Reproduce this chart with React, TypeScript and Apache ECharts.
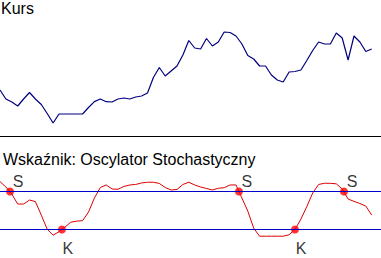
import React, { useEffect, useRef } from "react";
import * as echarts from "echarts";

// Kurs (price), one value per session
const price = [
  60, 51, 48, 44, 51, 57.5, 51, 45.5, 36.5, 27, 36, 36, 36, 36, 36, 42.5,
  48.4, 51, 48.3, 48, 51, 52, 51, 53, 54, 57, 72.5, 82.5, 74, 79, 84, 95,
  109.5, 102, 101, 111.5, 104, 108, 118, 117.5, 114, 106, 94.5, 91, 84, 84, 75, 70,
  68, 78, 78.5, 80, 89.5, 99.5, 108, 106, 106, 117, 112, 90, 114, 108, 98.5, 101,
];

// Oscylator stochastyczny (0-100)
const oscillator = [
  95.6, 87.1, 76, 60.2, 60.2, 66.5, 64.1, 42.7, 20.5, 11, 16.5, 23.7, 31.6, 33.2, 34, 47.5,
  69.7, 86.3, 90.3, 84, 83.5, 87.9, 90.3, 91.1, 93.5, 94.6, 94.6, 92.7, 86.3, 82.4, 83.2, 91.1,
  94.6, 90.3, 87.1, 84.8, 82.4, 85.1, 86, 90.3, 90.3, 69.7, 49, 22.1, 9.4, 9.4, 9.4, 9.4,
  9.4, 11.7, 20, 36.3, 56.2, 77.6, 91.1, 93, 92.9, 92.1, 84, 68.1, 64.4, 61, 57, 42.7,
];

const levels = [80, 20];

// Signals: S = sprzedaj (sell) on the upper level, K = kup (buy) on the lower level
const signalLabels = ["S", "K", "S", "K", "S"];
const signalDays = [1.7, 10.5, 40.5, 50, 58.3];
const signalLevels = [80, 20, 80, 20, 80];

const FONT = '"Liberation Sans", Arial, sans-serif';

export default function App() {
  const ref = useRef<HTMLDivElement>(null);

  useEffect(() => {
    document.body.style.margin = "0";
    if (!ref.current) return;
    const chart = echarts.init(ref.current, null, { renderer: "svg" });

    const xMax = 381 / 5.9;

    const option = {
      animation: false,
      grid: [
        { left: 0, right: 0, top: 20, height: 110 },
        { left: 0, right: 0, top: 178.83, height: 63.33 },
      ],
      xAxis: [
        { type: "value", gridIndex: 0, min: 0, max: xMax, show: false },
        { type: "value", gridIndex: 1, min: 0, max: xMax, show: false },
      ],
      yAxis: [
        { type: "value", gridIndex: 0, min: 20, max: 130, show: false },
        { type: "value", gridIndex: 1, min: 0, max: 100, show: false },
      ],
      graphic: [
        {
          type: "line",
          shape: { x1: 0, y1: 136.5, x2: 381, y2: 136.5 },
          style: { stroke: "#000", lineWidth: 1 },
          silent: true,
        },
        {
          type: "text",
          x: 1,
          y: 0,
          style: { text: "Kurs", font: `16px ${FONT}`, fill: "#000", verticalAlign: "top" },
          silent: true,
        },
        {
          type: "text",
          x: 3,
          y: 151,
          style: {
            text: "Wskaźnik: Oscylator Stochastyczny",
            font: `16px ${FONT}`,
            fill: "#000",
            verticalAlign: "top",
          },
          silent: true,
        },
      ],
      series: [
        {
          type: "line",
          xAxisIndex: 0,
          yAxisIndex: 0,
          data: price.map((v, i) => [i, v]),
          symbol: "none",
          lineStyle: { color: "#000080", width: 1.2 },
          silent: true,
        },
        {
          type: "line",
          xAxisIndex: 1,
          yAxisIndex: 1,
          data: oscillator.map((v, i) => [i, v]),
          symbol: "none",
          lineStyle: { color: "#dd0000", width: 1 },
          silent: true,
          markLine: {
            silent: true,
            symbol: "none",
            label: { show: false },
            lineStyle: { color: "#0000cc", width: 1, type: "solid" },
            data: levels.map((l) => ({ yAxis: l })),
          },
          z: 2,
        },
        {
          type: "scatter",
          xAxisIndex: 1,
          yAxisIndex: 1,
          symbolSize: 8,
          itemStyle: { color: "#ff0000" },
          silent: true,
          z: 3,
          data: signalLabels.map((s, i) => ({
            name: s,
            value: [signalDays[i], signalLevels[i]],
            label: {
              show: true,
              position: "inside",
              formatter: "{b}",
              offset: s === "S" ? [8, -10] : [6, 19],
              color: "#000",
              fontSize: 16,
              fontFamily: FONT,
            },
          })),
        },
      ],
    };

    chart.setOption(option as any);
    return () => chart.dispose();
  }, []);

  return <div ref={ref} style={{ width: 381, height: 258 }} />;
}
